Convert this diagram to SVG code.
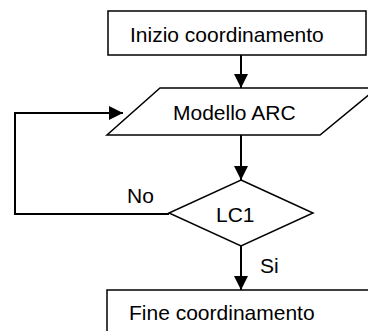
<svg xmlns="http://www.w3.org/2000/svg" width="368" height="331" viewBox="0 0 368 331">
<style>
.shape{fill:#fff;stroke:#000;stroke-width:1.5}
.conn{fill:none;stroke:#000;stroke-width:2}
text{font-family:"Liberation Sans",Arial,sans-serif;font-size:21px;fill:#000}
</style>
<defs>
<marker id="ah" markerUnits="userSpaceOnUse" markerWidth="14" markerHeight="14" viewBox="0 0 14 14" refX="14" refY="7" orient="auto">
<path d="M0,0 L14,7 L0,14 Z" fill="#000"/>
</marker>
</defs>
<rect width="368" height="331" fill="#fff"/>
<g id="start">
<rect class="shape" x="108" y="11" width="258" height="44"/>
<text x="130" y="42">Inizio coordinamento</text>
</g>
<g id="modello">
<polygon class="shape" points="160,88 377,88 320,135 107,135"/>
<text x="173" y="120">Modello ARC</text>
</g>
<g id="lc1">
<polygon class="shape" points="241,180 313,213 241,246 169,213"/>
<text x="216" y="222">LC1</text>
</g>
<g id="end">
<rect class="shape" x="107" y="290" width="270" height="60"/>
<text x="129" y="320">Fine coordinamento</text>
</g>
<g id="connectors">
<path class="conn" d="M241,55 V88" marker-end="url(#ah)"/>
<path class="conn" d="M241,135 V180" marker-end="url(#ah)"/>
<path class="conn" d="M241,246 V290" marker-end="url(#ah)"/>
<path class="conn" d="M169,214 H15 V113 H123" marker-end="url(#ah)"/>
<text x="127" y="203">No</text>
<text x="260" y="273">Si</text>
</g>
</svg>
